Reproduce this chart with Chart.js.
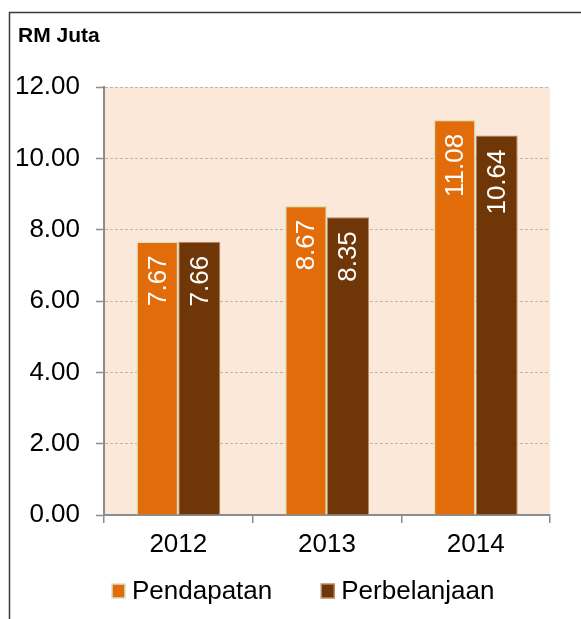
<!DOCTYPE html>
<html>
<head>
<meta charset="utf-8">
<script src="https://cdn.jsdelivr.net/npm/chart.js@4/dist/chart.umd.min.js"></script>
<style>
  html, body { margin: 0; padding: 0; background: #ffffff; }
  #wrap { position: absolute; left: 0; top: 0; width: 581px; height: 619px; }
</style>
</head>
<body>
<div id="wrap"><canvas id="c" width="581" height="619"></canvas></div>
<script>
const categories = ['2012', '2013', '2014'];
const pendapatan = [7.67, 8.67, 11.08];
const perbelanjaan = [7.66, 8.35, 10.64];
const seriesNames = ['Pendapatan', 'Perbelanjaan'];
const yTitle = 'RM Juta';
const yMin = 0, yMax = 12, yStep = 2;

const FONT = '"Liberation Sans", Arial, sans-serif';
const ORANGE = '#E36C0A';
const BROWN = '#6F3607';
const PLOT_BG = '#FCE8D8';

const framePlugin = {
  id: 'frame',
  beforeDraw(chart) {
    const ctx = chart.ctx, a = chart.chartArea;
    ctx.save();
    ctx.fillStyle = '#ffffff';
    ctx.fillRect(0, 0, chart.width, chart.height);
    ctx.fillStyle = PLOT_BG;
    ctx.fillRect(a.left, a.top, a.right - a.left, a.bottom - a.top);
    ctx.strokeStyle = '#3a3a3a';
    ctx.lineWidth = 1.5;
    ctx.beginPath();
    ctx.moveTo(9.5, chart.height);
    ctx.lineTo(9.5, 12.5);
    ctx.lineTo(chart.width, 12.5);
    ctx.stroke();
    ctx.fillStyle = '#000';
    ctx.font = 'bold 21px ' + FONT;
    ctx.textAlign = 'left';
    ctx.textBaseline = 'alphabetic';
    ctx.fillText(yTitle, 18, 42);
    ctx.restore();
  },
  afterDatasetsDraw(chart) {
    const ctx = chart.ctx;
    ctx.save();
    ctx.fillStyle = '#ffffff';
    ctx.font = '26px ' + FONT;
    ctx.textAlign = 'right';
    ctx.textBaseline = 'middle';
    chart.data.datasets.forEach((ds, di) => {
      const meta = chart.getDatasetMeta(di);
      meta.data.forEach((bar, i) => {
        ctx.save();
        ctx.translate(bar.x + 1, bar.y + 14);
        ctx.rotate(-Math.PI / 2);
        ctx.fillText(ds.data[i].toFixed(2), 0, 0);
        ctx.restore();
      });
    });
    ctx.restore();
  },
  afterDraw(chart) {
    const ctx = chart.ctx, a = chart.chartArea;
    ctx.save();
    ctx.font = '26px ' + FONT;
    ctx.textBaseline = 'middle';
    ctx.textAlign = 'left';
    const y = 591;
    let x = a.left + 8;
    chart.data.datasets.forEach((ds, di) => {
      ctx.fillStyle = ds.backgroundColor;
      ctx.fillRect(x, y - 7, 13, 14);
      ctx.strokeStyle = ds.borderColor;
      ctx.lineWidth = 1.5;
      ctx.strokeRect(x, y - 7, 13, 14);
      ctx.fillStyle = '#000';
      ctx.fillText(ds.label, x + 20, y + 1);
      x += 20 + ctx.measureText(ds.label).width + 49;
    });
    ctx.restore();
  }
};

new Chart(document.getElementById('c'), {
  type: 'bar',
  data: {
    labels: categories,
    datasets: [
      { label: seriesNames[0], data: pendapatan, backgroundColor: ORANGE, borderColor: '#D7E4BD', borderWidth: 1.5 },
      { label: seriesNames[1], data: perbelanjaan, backgroundColor: BROWN, borderColor: '#B98A66', borderWidth: 1 }
    ]
  },
  plugins: [framePlugin],
  options: {
    responsive: false,
    animation: false,
    events: [],
    layout: { padding: { left: 10, right: 31, top: 87, bottom: 54 } },
    datasets: { bar: { categoryPercentage: 0.565, barPercentage: 1.0 } },
    plugins: { legend: { display: false }, tooltip: { enabled: false }, title: { display: false } },
    scales: {
      x: {
        offset: true,
        grid: { display: true, offset: true, drawOnChartArea: false, drawTicks: true, tickLength: 8, color: '#8c8c8c', tickColor: '#8c8c8c', lineWidth: 1.5 },
        border: { display: true, color: '#8c8c8c', width: 2 },
        ticks: { color: '#000', font: { family: FONT, size: 26 }, padding: 6 },
        afterFit(scale) { scale.height = 50; }
      },
      y: {
        min: yMin, max: yMax,
        grid: { color: '#bdb5ad', lineWidth: 1, tickColor: '#8c8c8c', tickBorderDash: [], tickLength: 8, tickWidth: 1.5 },
        border: { display: true, color: '#8c8c8c', width: 2, dash: [3, 2] },
        ticks: { stepSize: yStep, color: '#000', font: { family: FONT, size: 26 }, padding: 16, callback: v => v.toFixed(2) },
        afterFit(scale) { scale.width = 94; }
      }
    }
  }
});
</script>
</body>
</html>
